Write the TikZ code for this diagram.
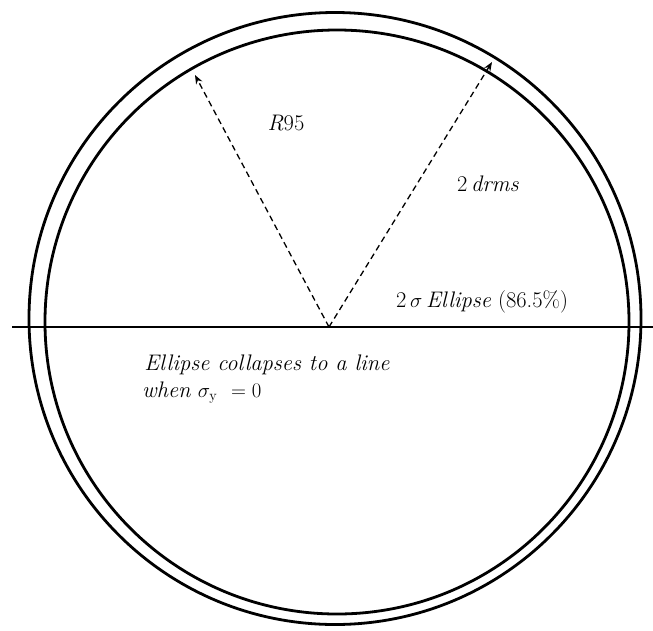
\documentclass[tikz,border=0pt]{standalone}
\usetikzlibrary{arrows.meta}
\begin{document}
\begin{tikzpicture}[x=1pt,y=-1pt,
  ring/.style={line width=2.8pt},
  axisline/.style={line width=1.4pt},
  radius arrow/.style={line width=1.3pt, dash pattern=on 6pt off 4pt, -{Stealth[length=9pt,width=7pt]}},
  lbl/.style={inner sep=0pt, font=\fontsize{22.5}{26}\selectfont}]
\useasboundingbox (0,0) rectangle (653,630);
\draw[ring] (335,318.5) circle[radius=306];
\draw[ring] (337,322) circle[radius=292];
\coordinate (L) at (12,327);
\coordinate (Rt) at (653,327);
\draw[axisline] (L) -- (Rt);
\coordinate (O) at (329,327);
\coordinate (A) at (195,75);
\coordinate (B) at (492,62);
\draw[radius arrow] (O) -- (A);
\draw[radius arrow] (O) -- (B);
\node[lbl] (r95) at (286,123) {\textit{R}95};
\node[lbl] (drms) at (488,184) {2\,\textit{drms}};
\node[lbl] (ell) at (482,302) {2\,$\sigma$\,\textit{Ellipse} (86.5\%)};
\node[lbl] (col) at (267,365) {\textit{Ellipse collapses to a line}};
\node[lbl, anchor=west] (when) at (142,393) {\textit{when} $\sigma_{\mathrm{y}}$ \ $=0$};
\end{tikzpicture}
\end{document}
